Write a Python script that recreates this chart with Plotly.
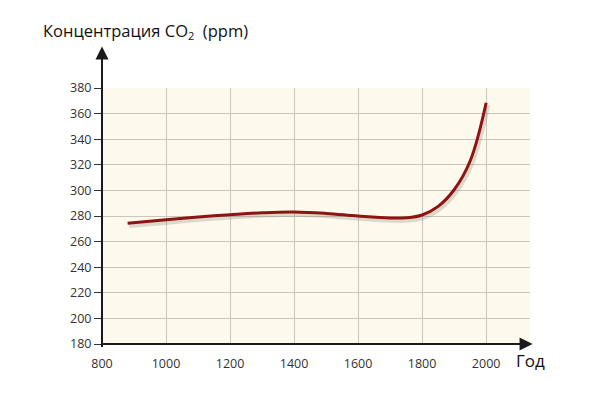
import plotly.graph_objects as go

years = [880, 1000, 1100, 1200, 1300, 1400, 1500, 1600, 1700, 1750, 1800, 1850, 1900, 1950, 2000]
co2 = [274.3, 277.0, 279.2, 281.0, 282.5, 283.1, 282.0, 280.0, 278.5, 278.6, 280.8, 287.5, 300.5, 323.0, 368.5]

x_ticks = [800, 1000, 1200, 1400, 1600, 1800, 2000]
y_ticks = [180, 200, 220, 240, 260, 280, 300, 320, 340, 360, 380]

title_text = "Концентрация CO<sub><span style='font-size:11px'>2</span></sub>  (ppm)"
x_label = "Год"

font_family = "Open Sans, Noto Sans, sans-serif"

fig = go.Figure()

# soft shadow below the curve
fig.add_trace(go.Scatter(
    x=[v + 5 for v in years], y=[v - 1.8 for v in co2],
    mode="lines", line=dict(color="rgba(110,100,90,0.22)", width=5, shape="spline", smoothing=1.1),
    hoverinfo="skip", showlegend=False))

fig.add_trace(go.Scatter(
    x=years, y=co2, mode="lines",
    line=dict(color="#8E1414", width=3, shape="spline", smoothing=1.1),
    showlegend=False))

fig.update_layout(
    width=592, height=385,
    margin=dict(l=94, r=70, t=80, b=49),
    paper_bgcolor="white",
    plot_bgcolor="#FDF9EC",
    font=dict(family=font_family, size=12.5, color="#333333"),
    xaxis=dict(range=[800, 2137], tickvals=x_ticks, ticktext=[str(v) for v in x_ticks],
               showgrid=True, gridcolor="#CBC6BD", gridwidth=1, automargin=False,
               zeroline=False, showline=False, ticks="outside", ticklen=8,
               tickcolor="rgba(0,0,0,0)",
               tickfont=dict(size=12.5, color="#333333")),
    yaxis=dict(range=[180, 380], tickvals=y_ticks, ticktext=[str(v) for v in y_ticks],
               showgrid=True, gridcolor="#CBC6BD", gridwidth=1, automargin=False,
               zeroline=False, showline=False, ticks="outside", ticklen=7,
               tickcolor="#333333", tickwidth=1,
               tickfont=dict(size=12.5, color="#333333")),
)

# axis lines with arrowheads
fig.add_annotation(xref="x domain", yref="y domain", x=0.0, y=1.162, ax=0, ay=302,
                   showarrow=True, arrowhead=2,
                   arrowsize=1.3, arrowwidth=2, arrowcolor="#1a1a1a", text="")
fig.add_annotation(xref="x domain", yref="y domain", x=1.006, y=0.0, ax=-431, ay=0,
                   showarrow=True, arrowhead=2,
                   arrowsize=1.3, arrowwidth=2, arrowcolor="#1a1a1a", text="")

fig.add_annotation(xref="paper", yref="paper", x=-0.142, y=1.222, xanchor="left", yanchor="middle",
                   text=title_text, showarrow=False,
                   font=dict(family=font_family, size=16.5, color="#111111"))
fig.add_annotation(xref="paper", yref="paper", x=0.962, y=-0.066, xanchor="left", yanchor="middle",
                   text=x_label, showarrow=False,
                   font=dict(family=font_family, size=17, color="#111111"))

fig.write_html("out.html")
